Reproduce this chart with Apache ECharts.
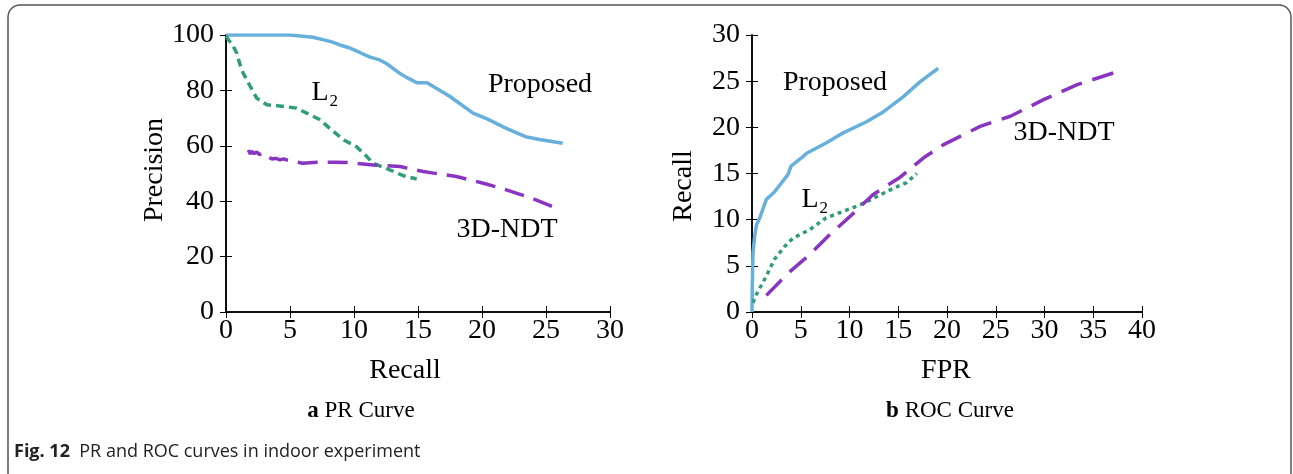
<!DOCTYPE html>
<html>
<head>
<meta charset="utf-8">
<script src="https://cdn.jsdelivr.net/npm/echarts@6/dist/echarts.min.js"></script>
<style>
  html, body { margin: 0; padding: 0; background: #fff; }
  #chart { width: 1293px; height: 474px; }
</style>
</head>
<body>
<div id="chart"></div>
<script>
// PR curve (Recall, Precision)
const prProposed = [[0, 100], [2, 100], [5, 100], [6.8, 99.2], [8.2, 97.6], [8.9, 96.4], [9.55, 95.5],
  [10.5, 93.6], [11.2, 92.1], [12.0, 91], [12.5, 89.8], [13.5, 86.4], [14.1, 84.7], [14.9, 82.8],
  [15.7, 82.8], [16.2, 81.4], [17.5, 77.8], [19.3, 71.8], [20.4, 69.7], [21.9, 66.3], [23.4, 63.3],
  [24.5, 62.3], [26.3, 60.9]];
const prL2 = [[0, 99.6], [0.2, 98.2], [0.5, 96.5], [0.85, 93.4], [1.1, 89.2], [1.35, 86.2], [1.9, 81.4],
  [2.4, 77.2], [3.2, 74.8], [4.2, 74.4], [5.5, 73.6], [6.3, 71.8], [7.35, 69.4], [8.1, 66.3],
  [9.2, 62.1], [10.2, 59.7], [11.0, 56.1], [11.5, 53.7], [12.5, 51.9], [13.85, 49.2], [14.9, 48.0]];
const prNdt = [[1.75, 58.5], [1.9, 57.0], [2.0, 58.0], [2.2, 57.2], [2.4, 57.8], [2.6, 56.8], [2.8, 57.4],
  [3.0, 56.3], [3.3, 56.0], [3.6, 55.2], [3.9, 55.5], [4.2, 54.9], [4.5, 55.3], [4.8, 54.8],
  [6.0, 53.7], [6.8, 54.0], [8.4, 54.1], [9.4, 54.0], [11.5, 53.1], [13.6, 52.5], [15.4, 50.7],
  [18.0, 48.9], [20.1, 46.5], [21.9, 44.1], [24.0, 40.9], [25.8, 37.5]];

// ROC curve (FPR, Recall)
const rocProposed = [[0, 0], [0.03, 2.8], [0.1, 6.4], [0.27, 8.2], [0.45, 9.4], [0.8, 10.2], [1.47, 12.2],
  [2.3, 13.0], [3.7, 14.9], [4.0, 15.8], [5.2, 16.8], [5.6, 17.2], [7.6, 18.3], [9.35, 19.4],
  [11.75, 20.6], [13.5, 21.7], [15.5, 23.3], [17.2, 24.9], [19.1, 26.4]];
const rocL2 = [[0.1, 1.0], [0.45, 1.9], [1.47, 3.9], [2.3, 5.7], [3.35, 7.1], [4.2, 8.0], [5.9, 8.9],
  [7.6, 10.2], [9.35, 10.9], [11.1, 11.6], [12.8, 12.5], [14.5, 13.4], [15.85, 14.0], [16.9, 15.0]];
const rocNdt = [[1.47, 1.8], [3.7, 4.2], [5.9, 6.2], [8.0, 8.4], [10.0, 10.3], [12.4, 12.7], [15.2, 14.6],
  [17.6, 16.7], [19.6, 18.1], [21.3, 19.0], [23.4, 20.1], [26.5, 21.2], [29.9, 23.0], [33.3, 24.6],
  [37.1, 25.9]];

const serif = "'Liberation Serif', 'DejaVu Serif', serif";
const sans = "'Open Sans', 'Noto Sans', sans-serif";
const cBlue = "#67b0dc";
const cGreen = "#2f9e76";
const cPurple = "#8a34c2";

const tickLabel = { fontFamily: serif, fontSize: 28, color: "#000" };

function mainX(grid, max, interval) {
  return {
    gridIndex: grid, type: "value", min: 0, max: max, interval: interval,
    axisLine: { show: true, lineStyle: { color: "#000", width: 1.5 } },
    axisTick: { inside: true, length: 6, lineStyle: { color: "#000" } },
    axisLabel: Object.assign({ margin: 5 }, tickLabel),
    splitLine: { show: false },
  };
}
function mirrorX(grid, max, interval) {
  return {
    gridIndex: grid, type: "value", position: "top", min: 0, max: max, interval: interval,
    axisLine: { show: true, lineStyle: { color: "#000", width: 1.5 } },
    axisTick: { inside: true, length: 6, lineStyle: { color: "#000" } },
    axisLabel: { show: false },
    splitLine: { show: false },
  };
}
function mainY(grid, max, interval) {
  return {
    gridIndex: grid, type: "value", min: 0, max: max, interval: interval,
    axisLine: { show: true, lineStyle: { color: "#000", width: 1.5 } },
    axisTick: { inside: true, length: 6, lineStyle: { color: "#000" } },
    axisLabel: Object.assign({ margin: 12 }, tickLabel),
    splitLine: { show: false },
  };
}
function mirrorY(grid, max, interval) {
  return {
    gridIndex: grid, type: "value", position: "right", min: 0, max: max, interval: interval,
    axisLine: { show: true, lineStyle: { color: "#000", width: 1.5 } },
    axisTick: { inside: true, length: 6, lineStyle: { color: "#000" } },
    axisLabel: { show: false },
    splitLine: { show: false },
  };
}

function line(name, data, xi, yi, color, type) {
  return {
    name: name, type: "line", xAxisIndex: xi, yAxisIndex: yi, data: data,
    symbol: "none", smooth: false, animation: false,
    lineStyle: { color: color, width: 3.5, type: type, cap: "butt" },
  };
}

function txt(x, y, text, opts) {
  return {
    type: "text", x: x, y: y, rotation: (opts && opts.rotation) || 0,
    style: Object.assign({
      text: text, fontFamily: serif, fontSize: 28, fill: "#000",
      align: "center", verticalAlign: "middle",
    }, opts && opts.style),
  };
}

const chart = echarts.init(document.getElementById("chart"));
chart.setOption({
  animation: false,
  backgroundColor: "#fff",
  grid: [
    { left: 226, top: 35, width: 384, height: 277 },
    { left: 752, top: 35, width: 390, height: 277 },
  ],
  xAxis: [mainX(0, 30, 5), mirrorX(0, 30, 5), mainX(1, 40, 5), mirrorX(1, 40, 5)],
  yAxis: [mainY(0, 100, 20), mirrorY(0, 100, 20), mainY(1, 30, 5), mirrorY(1, 30, 5)],
  series: [
    line("Proposed", prProposed, 0, 0, cBlue, "solid"),
    line("L2", prL2, 0, 0, cGreen, [8, 5]),
    line("3D-NDT", prNdt, 0, 0, cPurple, [20, 10]),
    line("Proposed", rocProposed, 2, 2, cBlue, "solid"),
    line("L2", rocL2, 2, 2, cGreen, [4, 4]),
    line("3D-NDT", rocNdt, 2, 2, cPurple, [22, 11]),
  ],
  graphic: [
    // outer rounded frame
    {
      type: "rect", shape: { x: 8, y: 5, width: 1283, height: 480, r: 12 },
      style: { fill: "none", stroke: "#555", lineWidth: 1.5 }, z: -1,
    },
    // axis names
    txt(405, 371, "Recall"),
    txt(155, 170, "Precision", { rotation: Math.PI / 2 }),
    txt(946, 371, "FPR"),
    txt(684, 186, "Recall", { rotation: Math.PI / 2 }),
    // curve labels
    txt(540, 85, "Proposed"),
    txt(325, 93, "L₂"),
    txt(507, 230, "3D-NDT"),
    txt(835, 83, "Proposed"),
    txt(815, 200, "L₂"),
    txt(1064, 133, "3D-NDT"),
    // panel captions
    {
      type: "text", x: 361, y: 411,
      style: {
        text: "{b|a} PR Curve", fontFamily: serif, fontSize: 23, fill: "#000",
        align: "center", verticalAlign: "middle",
        rich: { b: { fontFamily: serif, fontSize: 23, fontWeight: "bold" } },
      },
    },
    {
      type: "text", x: 950, y: 411,
      style: {
        text: "{b|b} ROC Curve", fontFamily: serif, fontSize: 23, fill: "#000",
        align: "center", verticalAlign: "middle",
        rich: { b: { fontFamily: serif, fontSize: 23, fontWeight: "bold" } },
      },
    },
    // figure caption
    {
      type: "text", x: 14, y: 452,
      style: {
        text: "{b|Fig. 12}  PR and ROC curves in indoor experiment",
        fontFamily: sans, fontSize: 18, fill: "#222",
        align: "left", verticalAlign: "middle",
        rich: { b: { fontFamily: sans, fontSize: 18, fontWeight: "bold", fill: "#222" } },
      },
    },
  ],
});
</script>
</body>
</html>
